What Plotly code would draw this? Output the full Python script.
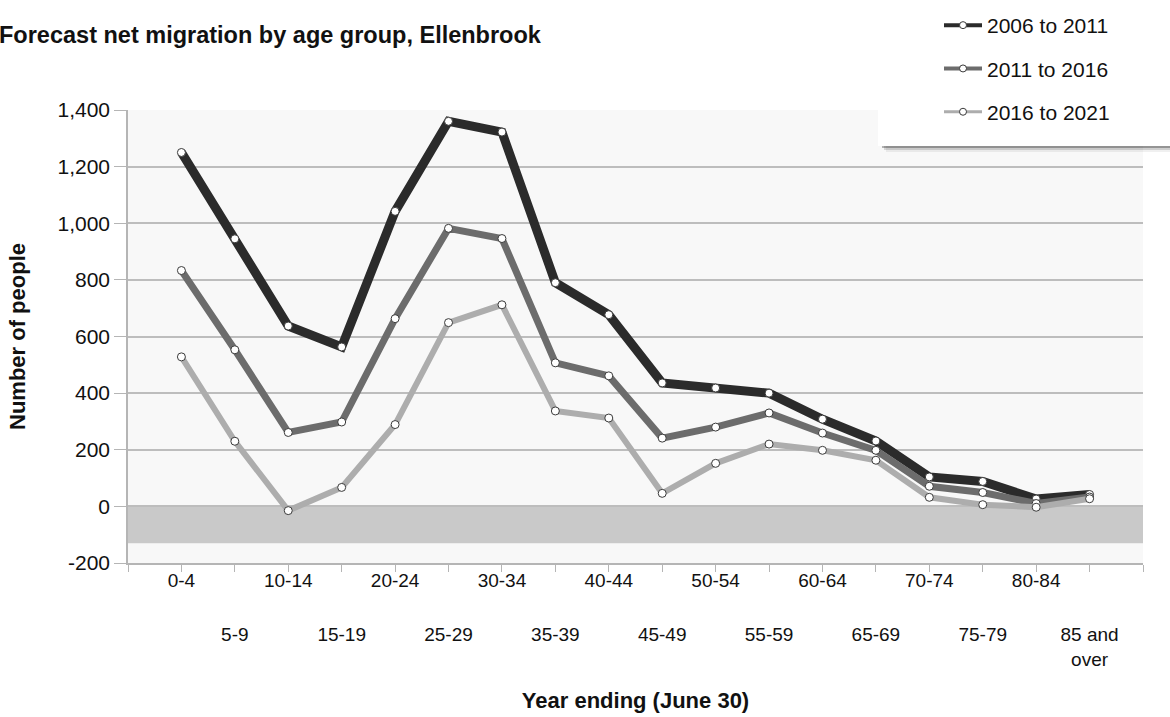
import plotly.graph_objects as go

# Net migration by five-year age group, Ellenbrook
age_groups = ["0-4", "5-9", "10-14", "15-19", "20-24", "25-29", "30-34", "35-39",
              "40-44", "45-49", "50-54", "55-59", "60-64", "65-69", "70-74",
              "75-79", "80-84", "85 and over"]

period_2006_2011 = [1250, 945, 637, 563, 1042, 1360, 1322, 790, 677, 436, 418, 400,
                    308, 231, 104, 88, 26, 42]
period_2011_2016 = [833, 553, 261, 298, 663, 982, 946, 507, 461, 241, 280, 330,
                    259, 198, 71, 49, 10, 33]
period_2016_2021 = [528, 230, -15, 67, 289, 649, 712, 337, 312, 46, 152, 220,
                    198, 163, 32, 6, -3, 27]

series_names = ["2006 to 2011", "2011 to 2016", "2016 to 2021"]
y_ticks = [-200, 0, 200, 400, 600, 800, 1000, 1200, 1400]
y_tick_text = [f"{v:,}" for v in y_ticks]

FONT = "Liberation Sans, Arial, sans-serif"
W, H = 1170, 717
M_L, M_R, M_T, M_B = 128, 27, 110, 154
PW, PH = W - M_L - M_R, H - M_T - M_B


def px_x(p):
    return (p - M_L) / PW


def px_y(p):
    return (H - M_B - p) / PH


x_pos = list(range(len(age_groups)))
x_range = [-1, len(age_groups)]

styles = [
    dict(color="#2b2b2b", width=9),
    dict(color="#6c6c6c", width=7),
    dict(color="#adadad", width=6),
]
legend_widths = [4, 4, 3]

fig = go.Figure()
for name, vals, st in zip(series_names,
                          [period_2006_2011, period_2011_2016, period_2016_2021],
                          styles):
    fig.add_trace(go.Scatter(
        x=x_pos, y=vals, name=name, mode="lines+markers",
        line=dict(color=st["color"], width=st["width"]),
        marker=dict(symbol="circle", size=8, color="white",
                    line=dict(color="#3a3a3a", width=1)),
        showlegend=False, hoverinfo="y",
    ))

# Slim legend entries (placed on the second label axis)
for i, (name, st) in enumerate(zip(series_names, styles)):
    fig.add_trace(go.Scatter(
        x=[None], y=[None], name=name, mode="lines+markers",
        legendgroup=name, xaxis="x2",
        line=dict(color=st["color"], width=legend_widths[i]),
        marker=dict(symbol="circle", size=7, color="white",
                    line=dict(color="#3a3a3a", width=1)),
    ))

# Tick labels alternate between two rows: even groups on x, odd groups on x2
tick_vals = list(range(-1, len(age_groups) + 1))
tick_text_row1 = [""] + [lab if i % 2 == 0 else "" for i, lab in enumerate(age_groups)] + [""]
odd_vals = [i for i in x_pos if i % 2 == 1]
odd_text = [age_groups[i].replace("85 and over", "85 and<br>over") for i in odd_vals]

shapes = [
    # negative band
    dict(type="rect", xref="paper", yref="y", x0=0, x1=1, y0=-130, y1=0,
         fillcolor="#c9c9c9", line=dict(width=0), layer="below"),
]
# legend box shadow and panel
for off, op in [(6, 0.06), (4, 0.14), (2, 0.28)]:
    shapes.append(dict(type="rect", xref="paper", yref="paper",
                       x0=px_x(880 + off), x1=px_x(1190), y0=px_y(146 + off), y1=px_y(140),
                       fillcolor=f"rgba(0,0,0,{op})", line=dict(width=0), layer="above"))
shapes.append(dict(type="rect", xref="paper", yref="paper",
                   x0=px_x(878), x1=px_x(1190), y0=px_y(146), y1=px_y(-20),
                   fillcolor="white", line=dict(width=0), layer="above"))

tick_font = dict(family=FONT, size=19, color="#111111")

fig.update_layout(
    width=W, height=H, autosize=False,
    margin=dict(l=M_L, r=M_R, t=M_T, b=M_B, autoexpand=False),
    paper_bgcolor="white", plot_bgcolor="#f8f8f8",
    font=dict(family=FONT, size=19, color="#111111"),
    shapes=shapes,
    showlegend=True,
    legend=dict(x=px_x(939), y=px_y(5), xanchor="left", yanchor="top",
                bgcolor="rgba(0,0,0,0)", borderwidth=0,
                font=dict(family=FONT, size=21, color="#111111"),
                traceorder="grouped", tracegroupgap=13, itemwidth=38),
    annotations=[dict(
        text="<b>Forecast net migration by age group, Ellenbrook</b>",
        xref="paper", yref="paper", x=px_x(-3), y=px_y(35),
        xanchor="left", yanchor="middle", showarrow=False,
        font=dict(family=FONT, size=23.5, color="#111111"),
    )],
    xaxis=dict(
        range=x_range, tickmode="array",
        tickvals=tick_vals, ticktext=tick_text_row1, tickangle=0,
        showgrid=False, zeroline=False,
        showline=True, linecolor="#b5b5b5", linewidth=2,
        ticks="outside", ticklen=7, tickcolor="#b5b5b5", tickwidth=1,
        tickfont=tick_font, ticklabelstandoff=-8,
        title=dict(text="<b>Year ending (June 30)</b>", standoff=103,
                   font=dict(family=FONT, size=22, color="#111111")),
    ),
    xaxis2=dict(
        range=x_range, overlaying="x", anchor="y", side="bottom",
        tickmode="array", tickvals=odd_vals, ticktext=odd_text, tickangle=0,
        showgrid=False, zeroline=False, showline=False,
        ticks="outside", ticklen=7, tickcolor="rgba(0,0,0,0)",
        tickfont=tick_font, ticklabelstandoff=47,
    ),
    yaxis=dict(
        range=[-200, 1400], tickmode="array", tickvals=y_ticks,
        ticktext=y_tick_text, showgrid=True, gridcolor="#bdbdbd", gridwidth=1.5,
        zeroline=False, showline=True, linecolor="#b5b5b5", linewidth=1.5,
        ticks="outside", ticklen=12, tickcolor="#b5b5b5", tickwidth=1,
        tickfont=dict(family=FONT, size=21, color="#111111"),
        title=dict(text="<b>Number of people</b>", standoff=26,
                   font=dict(family=FONT, size=22, color="#111111")),
    ),
)

fig.write_html("out.html")
